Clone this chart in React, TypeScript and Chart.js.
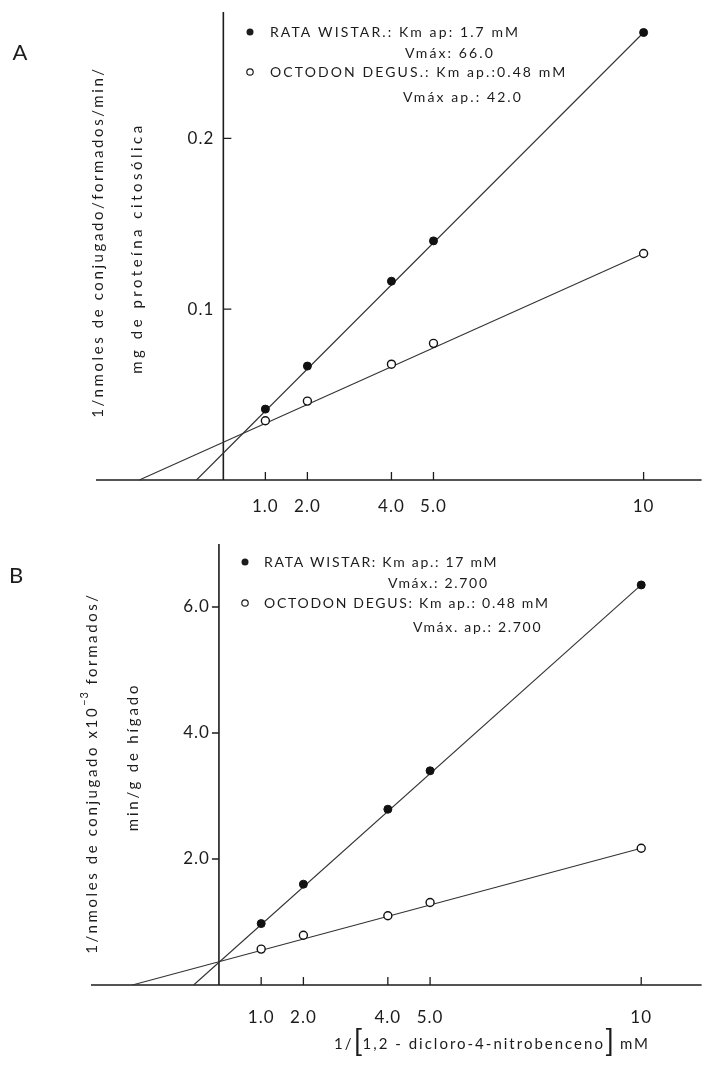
import React, { useEffect, useRef } from 'react';
import { Chart, registerables } from 'chart.js';
Chart.register(...registerables);

// ---------- DATA ----------
const xValues = [1, 2, 4, 5, 10];
const xTickValues = [1, 2, 4, 5, 10];
const xTickLabels = ['1.0', '2.0', '4.0', '5.0', '10'];

// Panel A
const rataA = [0.0415, 0.0667, 0.1164, 0.14, 0.262];
const octodonA = [0.0347, 0.0462, 0.0678, 0.08, 0.1326];
const rataLineXA = [-0.64, 10];
const rataLineYA = [0, 0.262];
const octodonLineXA = [-2.0, 10];
const octodonLineYA = [0, 0.1326];
const yTickValuesA = [0.1, 0.2];
const yTickLabelsA = ['0.1', '0.2'];
const legendA = ['RATA WISTAR.: Km ap: 1.7 mM', 'Vmáx: 66.0', 'OCTODON DEGUS.: Km ap.:0.48 mM', 'Vmáx ap.: 42.0'];
const yTitleA = ['1/nmoles de conjugado/formados/min/', 'mg de proteína citosólica'];

// Panel B
const rataB = [0.975, 1.6, 2.79, 3.4, 6.35];
const octodonB = [0.57, 0.79, 1.1, 1.31, 2.17];
const rataLineXB = [-0.6, 10];
const rataLineYB = [0, 6.35];
const octodonLineXB = [-2.05, 10];
const octodonLineYB = [0, 2.17];
const yTickValuesB = [2, 4, 6];
const yTickLabelsB = ['2.0', '4.0', '6.0'];
const legendB = ['RATA WISTAR: Km ap.: 17 mM', 'Vmáx.: 2.700', 'OCTODON DEGUS: Km ap.: 0.48 mM', 'Vmáx. ap.: 2.700'];
const yTitleB = ['1/nmoles de conjugado x10', '−3', ' formados/', 'min/g de hígado'];
const xTitle = ['1/', '[', '1,2 - dicloro-4-nitrobenceno', ']', ' mM'];

const FONT = 'Lato, "DejaVu Sans", sans-serif';
const INK = '#1c1c1c';

type Panel = {
  id: string;
  letter: string;
  letterPos: [number, number];
  height: number;
  top: number;
  xMin: number; xMax: number; yMin: number; yMax: number;
  padding: { left: number; right: number; top: number; bottom: number };
  rata: number[]; octodon: number[];
  rataLine: [number[], number[]]; octodonLine: [number[], number[]];
  yTicks: number[]; yTickLabels: string[];
  yTickInward: boolean;
  xLabelOffset: number;
  legend: string[];
  legendSpacing: number;
  legendPos: { bulletX: number; textX: number; ys: number[]; line2X: number; line4X: number };
  drawYTitle: (ctx: CanvasRenderingContext2D) => void;
  drawXTitle?: (ctx: CanvasRenderingContext2D) => void;
};

function setFont(ctx: CanvasRenderingContext2D, size: number, spacing: number) {
  ctx.font = `${size}px ${FONT}`;
  (ctx as any).letterSpacing = `${spacing}px`;
}

function drawRotated(ctx: CanvasRenderingContext2D, cx: number, cy: number, fn: () => void) {
  ctx.save();
  ctx.translate(cx, cy);
  ctx.rotate(-Math.PI / 2);
  fn();
  ctx.restore();
}

const panelA: Panel = {
  id: 'A', letter: 'A', letterPos: [20, 53], height: 530, top: 0,
  xMin: -3.03, xMax: 11.38, yMin: 0, yMax: 0.274,
  padding: { left: 96, right: 0, top: 12, bottom: 50 },
  rata: rataA, octodon: octodonA,
  rataLine: [rataLineXA, rataLineYA], octodonLine: [octodonLineXA, octodonLineYA],
  yTicks: yTickValuesA, yTickLabels: yTickLabelsA, yTickInward: true,
  xLabelOffset: 27,
  legend: legendA,
  legendSpacing: 2.1,
  legendPos: { bulletX: 250, textX: 270, ys: [32, 53, 72, 97], line2X: 405, line4X: 403 },
  drawYTitle: (ctx) => {
    ctx.textAlign = 'center'; ctx.textBaseline = 'middle';
    setFont(ctx, 15, 2.6);
    drawRotated(ctx, 98, 242, () => ctx.fillText(yTitleA[0], 0, 0));
    setFont(ctx, 15, 3.5);
    drawRotated(ctx, 137, 248, () => ctx.fillText(yTitleA[1], 0, 0));
  },
};

const panelB: Panel = {
  id: 'B', letter: 'B', letterPos: [16, 46], height: 540, top: 530,
  xMin: -3.03, xMax: 11.43, yMin: 0, yMax: 7.0,
  padding: { left: 91, right: 0, top: 14, bottom: 85 },
  rata: rataB, octodon: octodonB,
  rataLine: [rataLineXB, rataLineYB], octodonLine: [octodonLineXB, octodonLineYB],
  yTicks: yTickValuesB, yTickLabels: yTickLabelsB, yTickInward: false,
  xLabelOffset: 33,
  legend: legendB,
  legendSpacing: 1.7,
  legendPos: { bulletX: 245, textX: 264, ys: [32, 53, 73, 97], line2X: 388, line4X: 413 },
  drawYTitle: (ctx) => {
    ctx.textBaseline = 'middle';
    drawRotated(ctx, 92, 243, () => {
      setFont(ctx, 15, 2.6);
      const w1 = ctx.measureText(yTitleB[0]).width;
      const w3 = ctx.measureText(yTitleB[2]).width;
      setFont(ctx, 11, 1);
      const w2 = ctx.measureText(yTitleB[1]).width;
      let x = -(w1 + w2 + w3) / 2;
      ctx.textAlign = 'left';
      setFont(ctx, 15, 2.6);
      ctx.fillText(yTitleB[0], x, 0); x += w1;
      setFont(ctx, 11, 1);
      ctx.fillText(yTitleB[1], x, -8); x += w2;
      setFont(ctx, 15, 2.6);
      ctx.fillText(yTitleB[2], x, 0);
    });
    setFont(ctx, 15, 2.8);
    ctx.textAlign = 'center';
    drawRotated(ctx, 133, 227, () => ctx.fillText(yTitleB[3], 0, 0));
  },
  drawXTitle: (ctx) => {
    const cy = 514;
    ctx.textBaseline = 'middle';
    ctx.textAlign = 'left';
    const sizes = [15, 30, 15, 30, 15];
    const widths = xTitle.map((s, i) => { setFont(ctx, sizes[i], sizes[i] > 20 ? 0 : 2); return ctx.measureText(s).width; });
    const total = widths.reduce((a, b) => a + b, 0);
    let x = 492 - total / 2;
    xTitle.forEach((s, i) => {
      setFont(ctx, sizes[i], sizes[i] > 20 ? 0 : 2);
      ctx.fillText(s, x, sizes[i] > 20 ? cy - 2 : cy);
      x += widths[i];
    });
  },
};

function buildChart(canvas: HTMLCanvasElement, p: Panel) {
  const pts = (ys: number[]) => xValues.map((x, i) => ({ x, y: ys[i] }));
  const line = (l: [number[], number[]]) => l[0].map((x, i) => ({ x, y: l[1][i] }));

  const plugin = {
    id: 'panelDecor' + p.id,
    beforeDraw(chart: any) {
      const ctx = chart.ctx as CanvasRenderingContext2D;
      ctx.save();
      ctx.fillStyle = '#ffffff';
      ctx.fillRect(0, 0, chart.width, chart.height);
      ctx.restore();
    },
    beforeDatasetsDraw(chart: any) {
      const ctx = chart.ctx as CanvasRenderingContext2D;
      const xs = chart.scales.x, ys = chart.scales.y, ca = chart.chartArea;
      const x0 = xs.getPixelForValue(0), y0 = ys.getPixelForValue(0);
      ctx.save();
      ctx.strokeStyle = INK;
      ctx.lineWidth = 1.6;
      ctx.beginPath();
      ctx.moveTo(ca.left, y0); ctx.lineTo(ca.right, y0);
      ctx.moveTo(x0, y0); ctx.lineTo(x0, ca.top);
      ctx.stroke();
      ctx.lineWidth = 1.3;
      ctx.beginPath();
      xTickValues.forEach((v) => {
        const px = xs.getPixelForValue(v);
        ctx.moveTo(px, y0); ctx.lineTo(px, y0 - 8);
      });
      p.yTicks.forEach((v) => {
        const py = ys.getPixelForValue(v);
        ctx.moveTo(x0, py); ctx.lineTo(p.yTickInward ? x0 + 8 : x0 - 7, py);
      });
      ctx.stroke();
      ctx.restore();
    },
    afterDraw(chart: any) {
      const ctx = chart.ctx as CanvasRenderingContext2D;
      const xs = chart.scales.x, ys = chart.scales.y;
      const x0 = xs.getPixelForValue(0), y0 = ys.getPixelForValue(0);
      ctx.save();
      ctx.fillStyle = INK;
      ctx.strokeStyle = INK;
      // tick labels
      setFont(ctx, 17, 1);
      ctx.textAlign = 'center'; ctx.textBaseline = 'middle';
      xTickValues.forEach((v, i) => ctx.fillText(xTickLabels[i], xs.getPixelForValue(v), y0 + p.xLabelOffset));
      ctx.textAlign = 'right';
      p.yTicks.forEach((v, i) => ctx.fillText(p.yTickLabels[i], x0 - 9, ys.getPixelForValue(v)));
      // panel letter
      setFont(ctx, 22, 0);
      ctx.textAlign = 'center';
      ctx.fillText(p.letter, p.letterPos[0], p.letterPos[1]);
      // legend
      const L = p.legendPos;
      ctx.beginPath();
      ctx.arc(L.bulletX, L.ys[0], 3.5, 0, Math.PI * 2);
      ctx.fill();
      ctx.beginPath();
      ctx.lineWidth = 1.2;
      ctx.arc(L.bulletX, L.ys[2], 3.2, 0, Math.PI * 2);
      ctx.stroke();
      setFont(ctx, 14, p.legendSpacing);
      ctx.textAlign = 'left';
      ctx.fillText(p.legend[0], L.textX, L.ys[0]);
      ctx.fillText(p.legend[1], L.line2X, L.ys[1]);
      ctx.fillText(p.legend[2], L.textX, L.ys[2]);
      ctx.fillText(p.legend[3], L.line4X, L.ys[3]);
      // titles
      p.drawYTitle(ctx);
      if (p.drawXTitle) p.drawXTitle(ctx);
      ctx.restore();
    },
  };

  return new Chart(canvas, {
    type: 'scatter',
    data: {
      datasets: [
        {
          label: 'RATA WISTAR',
          data: pts(p.rata),
          pointRadius: 4,
          pointBackgroundColor: '#111',
          pointBorderColor: '#111',
          pointBorderWidth: 1,
          showLine: false,
          clip: false,
        },
        {
          label: 'OCTODON DEGUS',
          data: pts(p.octodon),
          pointRadius: 4,
          pointBackgroundColor: '#ffffff',
          pointBorderColor: '#111',
          pointBorderWidth: 1.4,
          showLine: false,
          clip: false,
        },
        {
          label: 'RATA WISTAR recta',
          data: line(p.rataLine),
          showLine: true,
          pointRadius: 0,
          borderColor: '#333',
          borderWidth: 1.1,
          clip: false,
        },
        {
          label: 'OCTODON DEGUS recta',
          data: line(p.octodonLine),
          showLine: true,
          pointRadius: 0,
          borderColor: '#333',
          borderWidth: 1.1,
          clip: false,
        },
      ],
    } as any,
    options: {
      responsive: false,
      animation: false,
      devicePixelRatio: 1,
      layout: { padding: p.padding },
      plugins: { legend: { display: false }, tooltip: { enabled: false } },
      scales: {
        x: { type: 'linear', display: false, min: p.xMin, max: p.xMax },
        y: { type: 'linear', display: false, min: p.yMin, max: p.yMax },
      },
    } as any,
    plugins: [plugin],
  });
}

function PanelCanvas({ panel }: { panel: Panel }) {
  const ref = useRef<HTMLCanvasElement | null>(null);
  useEffect(() => {
    if (!ref.current) return;
    const chart = buildChart(ref.current, panel);
    return () => chart.destroy();
  }, [panel]);
  return (
    <canvas
      ref={ref}
      width={707}
      height={panel.height}
      style={{ position: 'absolute', left: 0, top: panel.top, width: 707, height: panel.height, display: 'block' }}
    />
  );
}

export default function App() {
  useEffect(() => {
    document.body.style.margin = '0';
    document.body.style.background = '#ffffff';
  }, []);
  return (
    <div style={{ position: 'relative', width: 707, height: 1070, background: '#ffffff', overflow: 'hidden' }}>
      <PanelCanvas panel={panelA} />
      <PanelCanvas panel={panelB} />
    </div>
  );
}
